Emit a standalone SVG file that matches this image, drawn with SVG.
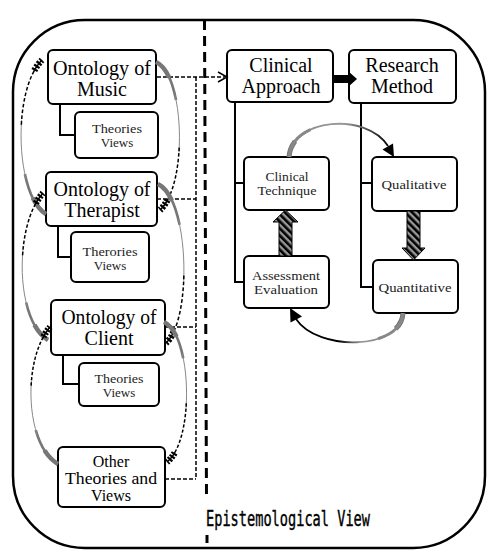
<svg xmlns="http://www.w3.org/2000/svg" xmlns:xlink="http://www.w3.org/1999/xlink" width="500" height="560" viewBox="0 0 500 560">
<style>
.box{fill:#fff;stroke:#000;stroke-width:2}
.big{font-family:"Liberation Serif","Times New Roman",serif;font-size:20px;text-anchor:middle;fill:#000}
.mid{font-family:"Liberation Serif","Times New Roman",serif;font-size:16px;text-anchor:middle;fill:#000}
.sm{font-family:"Liberation Serif","Times New Roman",serif;font-size:13px;text-anchor:middle;fill:#222}
.ln{fill:none;stroke:#000;stroke-width:2}
.dot{fill:none;stroke:#000;stroke-width:1.5;stroke-dasharray:4 2}
.a1{fill:none;stroke:#777;stroke-width:4.5;stroke-dasharray:13 200}
.a2{fill:none;stroke:#777;stroke-width:2.6;stroke-dasharray:28 200}
.a3{fill:none;stroke:#888;stroke-width:1;stroke-dasharray:0 25 36 200}
.a4{fill:none;stroke:#000;stroke-width:1.5;stroke-dasharray:0 58 2.2 1.3 2.2 1.3 2.2 1.3 2.2 1.3 2.2 1.3 2.2 1.3 2.2 1.3 2.2 1.3 2.2 1.3 200}
.a5{fill:none;stroke:#000;stroke-width:6.5;stroke-dasharray:0 92 1.4 0.9 1.4 0.9 1.4 0.9 1.4 200}
</style>
<defs>
<pattern id="hatch" patternUnits="userSpaceOnUse" width="5" height="5" patternTransform="rotate(-45)">
<rect width="5" height="5" fill="#999"/>
<rect width="2.6" height="5" fill="#000"/>
</pattern>
<linearGradient id="gTop" gradientUnits="userSpaceOnUse" x1="289" y1="0" x2="390" y2="0">
<stop offset="0" stop-color="#888"/><stop offset="0.55" stop-color="#999"/><stop offset="1" stop-color="#000"/>
</linearGradient>
<linearGradient id="gBot" gradientUnits="userSpaceOnUse" x1="403" y1="0" x2="296" y2="0">
<stop offset="0" stop-color="#777"/><stop offset="0.4" stop-color="#999"/><stop offset="0.6" stop-color="#000"/><stop offset="1" stop-color="#000"/>
</linearGradient>
<path id="R1" pathLength="100" d="M156,62 C185,75 188,185 160,210"/>
<path id="R2" pathLength="100" d="M158,184 C190,200 192,320 166,343"/>
<path id="R3" pathLength="100" d="M164,322 C192,335 195,440 167,462"/>
<path id="L1" pathLength="100" d="M46,214 C15,195 12,90 42,60"/>
<path id="L2" pathLength="100" d="M48,340 C15,320 14,225 43,193"/>
<path id="L3" pathLength="100" d="M58,464 C25,445 22,360 50,327"/>
<path id="TA" pathLength="100" d="M289,157 C292,118 366,112 388,146"/>
<path id="BA" pathLength="100" d="M403,313 C401,350 318,352 296,319"/>
</defs>

<rect x="13" y="20" width="472" height="528" rx="72" fill="#fff" stroke="#000" stroke-width="2.5"/>
<line x1="204.5" y1="20" x2="206.5" y2="498" stroke="#000" stroke-width="3" stroke-dasharray="10 6"/>
<line x1="207" y1="535" x2="207" y2="547" stroke="#000" stroke-width="3" stroke-dasharray="8 6"/>
<text x="288" y="526" font-family="'DejaVu Sans Mono','Liberation Mono',monospace" font-size="21" fill="#000" stroke="#000" stroke-width="0.4" text-anchor="middle" textLength="164" lengthAdjust="spacingAndGlyphs">Epistemological View</text>

<g id="n-music">
<rect class="box" x="48" y="50" width="108" height="54" rx="5"/>
<text class="big" x="102" y="75" textLength="98" lengthAdjust="spacingAndGlyphs">Ontology of</text>
<text class="big" x="102" y="96">Music</text>
</g>
<g id="n-music-tv">
<rect class="box" x="75" y="112" width="83" height="46" rx="5"/>
<text class="sm" x="117" y="133" textLength="50" lengthAdjust="spacingAndGlyphs">Theories</text>
<text class="sm" x="117" y="147">Views</text>
</g>
<g id="n-therapist">
<rect class="box" x="46" y="172" width="111" height="54" rx="5"/>
<text class="big" x="102" y="196" textLength="97" lengthAdjust="spacingAndGlyphs">Ontology of</text>
<text class="big" x="102" y="217">Therapist</text>
</g>
<g id="n-therapist-tv">
<rect class="box" x="71" y="232" width="78" height="50" rx="5"/>
<text class="sm" x="110" y="256" textLength="55" lengthAdjust="spacingAndGlyphs">Therories</text>
<text class="sm" x="110" y="270">Views</text>
</g>
<g id="n-client">
<rect class="box" x="51" y="300" width="114" height="55" rx="5"/>
<text class="big" x="109" y="324" textLength="95" lengthAdjust="spacingAndGlyphs">Ontology of</text>
<text class="big" x="109" y="345">Client</text>
</g>
<g id="n-client-tv">
<rect class="box" x="79" y="363" width="80" height="43" rx="5"/>
<text class="sm" x="119" y="383" textLength="49" lengthAdjust="spacingAndGlyphs">Theories</text>
<text class="sm" x="119" y="397">Views</text>
</g>
<g id="n-other">
<rect class="box" x="58" y="447" width="107" height="60" rx="5"/>
<text class="mid" x="111" y="467">Other</text>
<text class="mid" x="111" y="484" textLength="92" lengthAdjust="spacingAndGlyphs">Theories and</text>
<text class="mid" x="111" y="501">Views</text>
</g>
<g id="n-clinical">
<rect class="box" x="227" y="50" width="106" height="52" rx="5"/>
<text class="big" x="281" y="72">Clinical</text>
<text class="big" x="281" y="93">Approach</text>
</g>
<g id="n-research">
<rect class="box" x="349" y="50" width="107" height="53" rx="5"/>
<text class="big" x="402" y="72">Research</text>
<text class="big" x="402" y="93">Method</text>
</g>
<g id="n-technique">
<rect class="box" x="244" y="157" width="85" height="53" rx="5"/>
<text class="sm" x="287" y="181" textLength="43" lengthAdjust="spacingAndGlyphs">Clinical</text>
<text class="sm" x="287" y="195" textLength="59" lengthAdjust="spacingAndGlyphs">Technique</text>
</g>
<g id="n-qualitative">
<rect class="box" x="372" y="157" width="85" height="54" rx="5"/>
<text class="sm" x="414" y="189" textLength="65" lengthAdjust="spacingAndGlyphs">Qualitative</text>
</g>
<g id="n-assessment">
<rect class="box" x="244" y="256" width="85" height="52" rx="5"/>
<text class="sm" x="286" y="280" textLength="68" lengthAdjust="spacingAndGlyphs">Assessment</text>
<text class="sm" x="286" y="294" textLength="64" lengthAdjust="spacingAndGlyphs">Evaluation</text>
</g>
<g id="n-quantitative">
<rect class="box" x="373" y="260" width="85" height="53" rx="5"/>
<text class="sm" x="415" y="292" textLength="73" lengthAdjust="spacingAndGlyphs">Quantitative</text>
</g>

<g id="connectors">
<path class="dot" d="M157,77 H225"/>
<path fill="none" stroke="#000" stroke-width="1.5" d="M218,72 L227,77 L218,82"/>
<path class="dot" d="M196,77 V479 M157,199 H196 M165,327 H196 M165,479 H196"/>
<path class="ln" d="M60,104 V135 H75 M58,226 V257 H71 M63,355 V384 H79"/>
<path class="ln" d="M235,102 V282 H244 M235,183 H244 M361,103 V287 H373 M361,183 H372"/>
<polygon points="333,75 348,75 348,71 357,79 348,87 348,83 333,83" fill="#000"/>
<polygon points="279,256 279,222 273,222 285.5,210 298,222 292,222 292,256" fill="url(#hatch)" stroke="#000" stroke-width="1"/>
<polygon points="407,211 407,248 402,248 413.5,260 425,248 420,248 420,211" fill="url(#hatch)" stroke="#000" stroke-width="1"/>
<g>
<use xlink:href="#R1" class="a1"/><use xlink:href="#R1" class="a2"/><use xlink:href="#R1" class="a3"/><use xlink:href="#R1" class="a4"/><use xlink:href="#R1" class="a5"/>
<use xlink:href="#R2" class="a1"/><use xlink:href="#R2" class="a2"/><use xlink:href="#R2" class="a3"/><use xlink:href="#R2" class="a4"/><use xlink:href="#R2" class="a5"/>
<use xlink:href="#R3" class="a1"/><use xlink:href="#R3" class="a2"/><use xlink:href="#R3" class="a3"/><use xlink:href="#R3" class="a4"/><use xlink:href="#R3" class="a5"/>
<use xlink:href="#L1" class="a1"/><use xlink:href="#L1" class="a2"/><use xlink:href="#L1" class="a3"/><use xlink:href="#L1" class="a4"/><use xlink:href="#L1" class="a5"/>
<use xlink:href="#L2" class="a1"/><use xlink:href="#L2" class="a2"/><use xlink:href="#L2" class="a3"/><use xlink:href="#L2" class="a4"/><use xlink:href="#L2" class="a5"/>
<use xlink:href="#L3" class="a1"/><use xlink:href="#L3" class="a2"/><use xlink:href="#L3" class="a3"/><use xlink:href="#L3" class="a4"/><use xlink:href="#L3" class="a5"/>
</g>
<g>
<use xlink:href="#TA" fill="none" stroke="url(#gTop)" stroke-width="1.8"/>
<use xlink:href="#TA" fill="none" stroke="#777" stroke-width="5" stroke-dasharray="14 200"/>
<use xlink:href="#TA" fill="none" stroke="#888" stroke-width="3" stroke-dasharray="30 200"/>
<polygon points="394,157 382.5,149.5 393,143.5" fill="#000"/>
<use xlink:href="#BA" fill="none" stroke="url(#gBot)" stroke-width="1.8"/>
<use xlink:href="#BA" fill="none" stroke="#777" stroke-width="5" stroke-dasharray="14 200"/>
<use xlink:href="#BA" fill="none" stroke="#888" stroke-width="3" stroke-dasharray="30 200"/>
<polygon points="290,308 302,316.5 290.5,322.5" fill="#000"/>
</g>
</g>
</svg>
